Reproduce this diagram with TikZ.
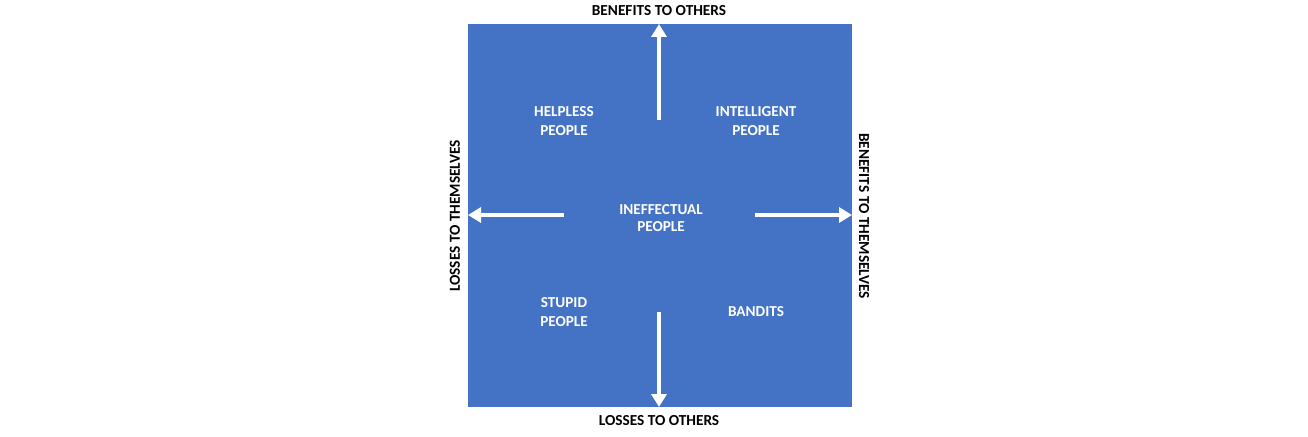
\documentclass[tikz,border=0pt]{standalone}
\usepackage{fontspec}
\setmainfont{Carlito}
\usetikzlibrary{arrows.meta}
\definecolor{boxblue}{HTML}{4472C4}
\begin{document}
\begin{tikzpicture}[x=1pt,y=-1pt,
  lab/.style={font=\bfseries\fontsize{15.3}{17}\selectfont, text=black, inner sep=0pt},
  inlab/.style={font=\bfseries\fontsize{15.2}{19}\selectfont, text=white, align=center, inner sep=0pt},
  axis/.style={draw=white, line width=4.5pt, -{Triangle[width=15pt,length=13pt]}}]
\useasboundingbox (0,0) rectangle (1308,436);
\node[fill=boxblue, minimum width=384pt, minimum height=383pt, inner sep=0pt, anchor=north west] (sq) at (468,24) {};
\coordinate (ctop) at (659,24);
\coordinate (cbot) at (659,407);
\coordinate (cleft) at (468,215);
\coordinate (cright) at (852,215);
\coordinate (stop) at (659,120);
\coordinate (sbot) at (659,312);
\coordinate (sleft) at (564,215);
\coordinate (sright) at (755,215);
\draw[axis] (stop) -- (ctop);
\draw[axis] (sbot) -- (cbot);
\draw[axis] (sleft) -- (cleft);
\draw[axis] (sright) -- (cright);
\node[lab] (bto) at (659,11) {BENEFITS TO OTHERS};
\node[lab] (lto) at (659,421) {LOSSES TO OTHERS};
\node[lab, rotate=90] (ltt) at (455,216) {LOSSES TO THEMSELVES};
\node[lab, rotate=-90] (btt) at (864,216) {BENEFITS TO THEMSELVES};
\node[inlab] (help) at (564,121) {HELPLESS\\PEOPLE};
\node[inlab] (intel) at (756,121) {INTELLIGENT\\PEOPLE};
\node[inlab, font=\bfseries\fontsize{15.2}{16.5}\selectfont] (ineff) at (661,218) {INEFFECTUAL\\PEOPLE};
\node[inlab] (stup) at (564,312) {STUPID\\PEOPLE};
\node[inlab] (band) at (756,312) {BANDITS};
\end{tikzpicture}
\end{document}
